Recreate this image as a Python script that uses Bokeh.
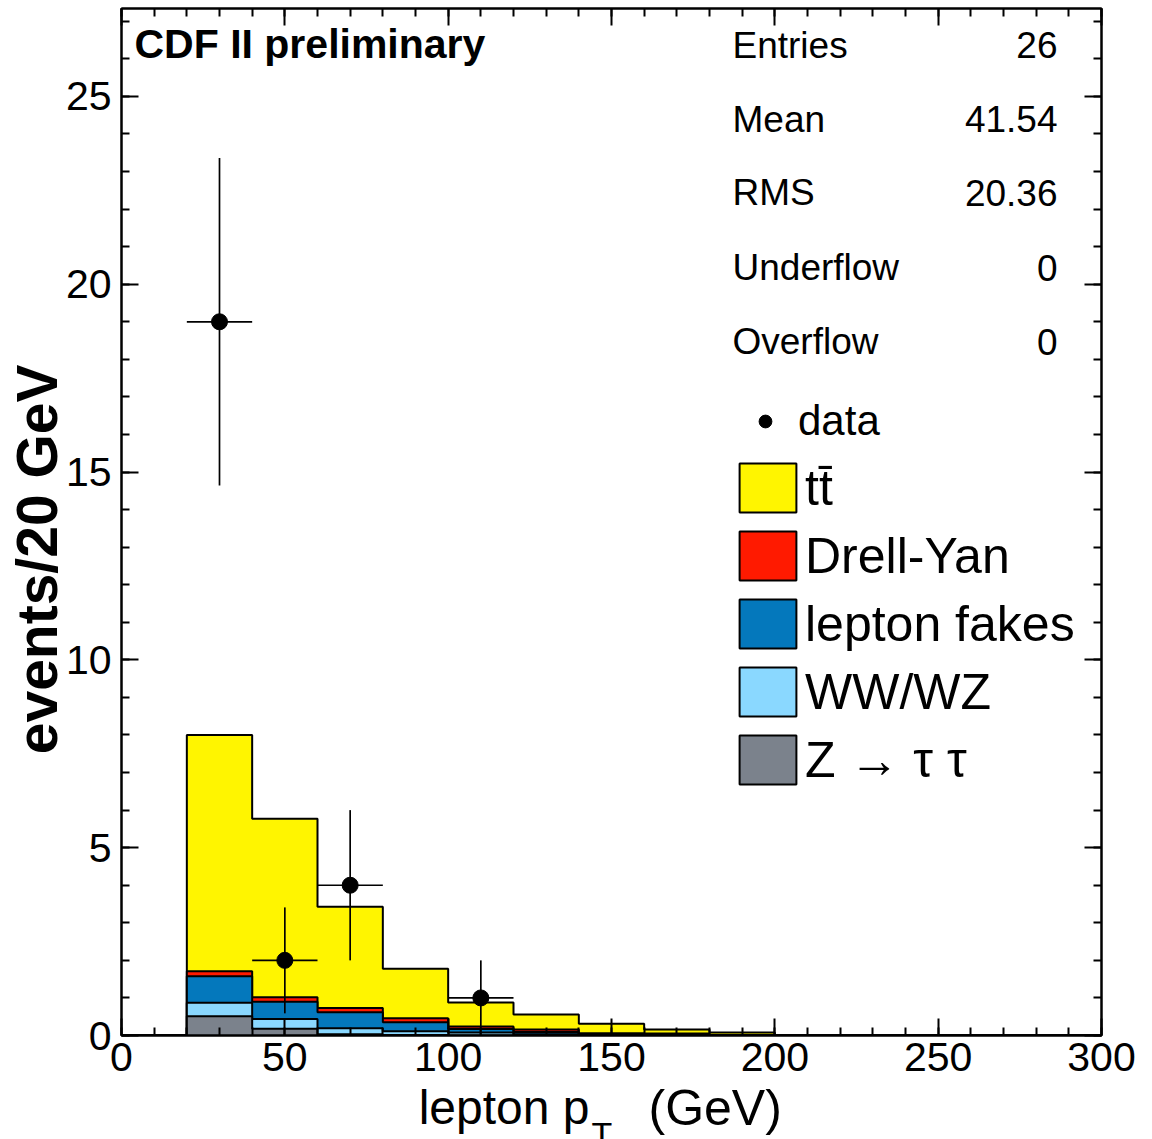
import math
from bokeh.plotting import figure
from bokeh.layouts import column
from bokeh.models import (Range1d, SingleIntervalTicker, LinearAxis, Label,
                          Legend, LegendItem)
from bokeh.embed import file_html
from bokeh.resources import INLINE

# ---------------- data ----------------
bin_edges = [0, 20, 40, 60, 80, 100, 120, 140, 160, 180, 200, 220, 240, 260, 280, 300]
ztautau = [0, 0.51, 0.18, 0.03, 0.01, 0.00, 0.00, 0.00, 0.00, 0.00, 0, 0, 0, 0, 0]
wwwz    = [0, 0.36, 0.26, 0.16, 0.10, 0.08, 0.03, 0.01, 0.01, 0.00, 0, 0, 0, 0, 0]
fakes   = [0, 0.71, 0.46, 0.43, 0.24, 0.09, 0.06, 0.02, 0.01, 0.00, 0, 0, 0, 0, 0]
drellyan= [0, 0.13, 0.12, 0.11, 0.11, 0.07, 0.07, 0.03, 0.03, 0.01, 0, 0, 0, 0, 0]
ttbar   = [0, 6.29, 4.75, 2.70, 1.32, 0.64, 0.40, 0.25, 0.11, 0.07, 0, 0, 0, 0, 0]

data_x    = [30, 50, 70, 110]
data_y    = [19, 2, 4, 1]
data_yerr = [4.36, 1.41, 2.0, 1.0]
data_xerr = [10, 10, 10, 10]

stats_names  = ["Entries", "Mean", "RMS", "Underflow", "Overflow"]
stats_values = ["26", "41.54", "20.36", "0", "0"]

series_labels = ["tt\u0304", "Drell-Yan", "lepton fakes", "WW/WZ", "Z \u2192 \u03c4 \u03c4"]
series_colors = ["#fff500", "#ff1a00", "#0478bc", "#8ad8ff", "#7b828c"]

FONT = "Liberation Sans"
NB = "\u00a0"

# ---------------- main figure ----------------
p = figure(width=1152, height=1088, x_range=Range1d(0, 300), y_range=Range1d(0, 27.34),
           output_backend="svg", toolbar_location=None,
           min_border_left=121, min_border_right=51, min_border_top=8, min_border_bottom=53)
p.grid.visible = False
p.outline_line_color = "black"
p.outline_line_width = 2
p.background_fill_color = "white"
p.border_fill_color = "white"

p.xaxis.ticker = SingleIntervalTicker(interval=50, num_minor_ticks=5)
p.yaxis.ticker = SingleIntervalTicker(interval=5, num_minor_ticks=5)

def style_axis(ax, labels=True):
    ax.axis_line_width = 2
    ax.axis_line_color = "black"
    ax.major_tick_in = 17
    ax.major_tick_out = 0
    ax.minor_tick_in = 8
    ax.minor_tick_out = 0
    ax.major_tick_line_width = 2
    ax.minor_tick_line_width = 2
    ax.major_tick_line_color = "black"
    ax.minor_tick_line_color = "black"
    if labels:
        ax.major_label_text_font = FONT
        ax.major_label_text_font_size = "41px"
        ax.major_label_text_color = "black"
    else:
        ax.major_label_text_font_size = "0px"
        ax.major_label_text_color = None
        ax.major_label_standoff = 0

style_axis(p.xaxis[0])
style_axis(p.yaxis[0])
p.xaxis[0].major_label_standoff = 7
p.yaxis[0].major_label_standoff = 10

yax = p.yaxis[0]
yax.axis_label = "events/20 GeV" + NB * 4 + "\u2009"
yax.axis_label_text_font = FONT
yax.axis_label_text_font_size = "57px"
yax.axis_label_text_font_style = "bold"
yax.axis_label_text_color = "black"
yax.axis_label_standoff = -6

top_ax = LinearAxis(ticker=SingleIntervalTicker(interval=50, num_minor_ticks=5))
right_ax = LinearAxis(ticker=SingleIntervalTicker(interval=5, num_minor_ticks=5))
style_axis(top_ax, labels=False)
style_axis(right_ax, labels=False)
p.add_layout(top_ax, "above")
p.add_layout(right_ax, "right")

# ---------------- stacked histogram ----------------
def cumulate(*comps):
    out = []
    run = [0.0] * len(comps[0])
    for c in comps:
        run = [a + b for a, b in zip(run, c)]
        out.append(run)
    return out

c_z, c_ww, c_fk, c_dy, c_tt = cumulate(ztautau, wwwz, fakes, drellyan, ttbar)

def step_poly(edges, vals):
    xs, ys = [edges[0]], [0]
    for i, v in enumerate(vals):
        xs += [edges[i], edges[i + 1]]
        ys += [v, v]
    xs.append(edges[-1])
    ys.append(0)
    return xs, ys

layers = [c_tt, c_dy, c_fk, c_ww, c_z]
renderers = []
for vals, col in zip(layers, series_colors):
    xs, ys = step_poly(bin_edges, vals)
    r = p.patch(xs, ys, fill_color=col, line_color="black", line_width=2)
    renderers.append(r)

# ---------------- data points ----------------
p.segment(x0=[x - e for x, e in zip(data_x, data_xerr)], x1=[x + e for x, e in zip(data_x, data_xerr)],
          y0=data_y, y1=data_y, line_color="black", line_width=1.7)
p.segment(x0=data_x, x1=data_x, y0=[y - e for y, e in zip(data_y, data_yerr)],
          y1=[y + e for y, e in zip(data_y, data_yerr)], line_color="black", line_width=1.7)
sc = p.scatter(data_x, data_y, size=16, color="black")

# ---------------- legends ----------------
leg_data = Legend(items=[LegendItem(label="data", renderers=[sc])], location=(611, 590),
                  glyph_width=66, glyph_height=32, label_standoff=0,
                  label_text_font=FONT, label_text_font_size="42px", label_text_color="black",
                  padding=0, margin=0, border_line_color=None, background_fill_alpha=0)
p.add_layout(leg_data)

leg = Legend(items=[LegendItem(label=l, renderers=[r]) for l, r in zip(series_labels, renderers)],
             location=(611, 245), glyph_width=71, glyph_height=61, label_standoff=2,
             label_height=49, spacing=7,
             label_text_font=FONT, label_text_font_size="50px", label_text_color="black",
             padding=0, margin=0, border_line_color=None, background_fill_alpha=0)
p.add_layout(leg)

# ---------------- texts inside the frame ----------------
def lab(fig, text, x, y, size, align="left", bold=False):
    fig.add_layout(Label(x=x, y=y, x_units="screen", y_units="screen", text=text,
                         text_font=FONT, text_font_size=size, text_align=align,
                         text_baseline="middle",
                         text_font_style="bold" if bold else "normal", text_color="black"))

lab(p, "CDF II preliminary", 13, 992, "41px", bold=True)

stat_mid = [990.5, 916.1, 842.8, 767.8, 693.8]
for n, v, ym in zip(stats_names, stats_values, stat_mid):
    lab(p, n, 611, ym, "37px")
    lab(p, v, 936, ym, "37px", align="right")

# ---------------- x-axis title strip (frame aligned with main plot) ----------------
q = figure(width=1152, height=51, x_range=Range1d(0, 1), y_range=Range1d(0, 1),
           output_backend="svg", toolbar_location=None,
           x_axis_location=None, y_axis_location=None,
           min_border_left=0, min_border_right=0, min_border_top=0, min_border_bottom=0)
q.grid.visible = False
q.outline_line_color = None
q.background_fill_color = "white"
q.border_fill_color = "white"
lab(q, "lepton p", 468, 31.6, "48px", align="right")
lab(q, "T", 470, 6, "34px")
lab(q, "(GeV)", 527, 31.6, "50px")

layout = column(p, q, spacing=0)
open("out.html", "w").write(file_html(layout, INLINE))
